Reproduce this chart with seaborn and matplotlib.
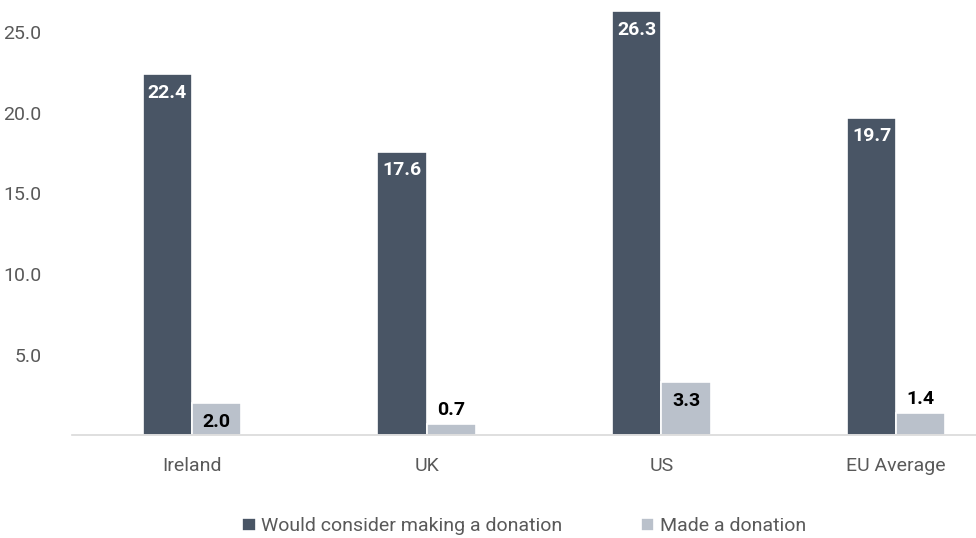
import seaborn as sns
import matplotlib.pyplot as plt
import pandas as pd

# chart values
countries = ['Ireland', 'UK', 'US', 'EU Average']
would_consider = [22.4, 17.6, 26.3, 19.7]
made_donation = [2.0, 0.7, 3.3, 1.4]
series_names = ['Would consider making a donation', 'Made a donation']

df = pd.DataFrame({
    'Country': countries * 2,
    'Value': would_consider + made_donation,
    'Series': [series_names[0]] * 4 + [series_names[1]] * 4,
})

sns.set_style('white')
plt.rcParams['font.family'] = ['Roboto', 'DejaVu Sans']

colors = ['#44546A', '#B7C0CE']

fig = plt.figure(figsize=(9.76, 5.38), dpi=100)
ax = fig.add_axes([0.074, 0.191, 0.926, 0.809])

sns.barplot(data=df, x='Country', y='Value', hue='Series', palette=colors,
            width=0.42, edgecolor='white', linewidth=1.2, ax=ax)

# value labels
for cont, color in zip(ax.containers, ['white', 'black']):
    for bar in cont:
        h = bar.get_height()
        x = bar.get_x() + bar.get_width() / 2
        if color == 'white' or h >= 2:
            ax.text(x, h - 0.6, f'{h:.1f}', ha='center', va='top',
                    color=color, fontsize=14, fontweight='bold')
        else:
            ax.text(x, h + 0.3, f'{h:.1f}', ha='center', va='bottom',
                    color=color, fontsize=14, fontweight='bold')

ax.set_ylim(0, 27)
ax.set_xlim(-0.51, 3.34)
ax.set_yticks([5, 10, 15, 20, 25])
ax.set_yticklabels([f'{v:.1f}' for v in [5, 10, 15, 20, 25]])
ax.set_xlabel('')
ax.set_ylabel('')
ax.tick_params(axis='both', colors='#595959', labelsize=14, length=0)
ax.tick_params(axis='x', pad=16)
ax.tick_params(axis='y', pad=22)

for s in ['top', 'right', 'left']:
    ax.spines[s].set_visible(False)
ax.spines['bottom'].set_color('#D9D9D9')
ax.spines['bottom'].set_linewidth(1.2)

handles, labels = ax.get_legend_handles_labels()
ax.legend(handles, labels, loc='lower center', bbox_to_anchor=(0.5, -0.27),
          ncol=2, frameon=False, fontsize=14, handlelength=0.7,
          handleheight=0.7, handletextpad=0.3, columnspacing=4,
          labelcolor='#595959')

fig.savefig('out.png', dpi=100)
